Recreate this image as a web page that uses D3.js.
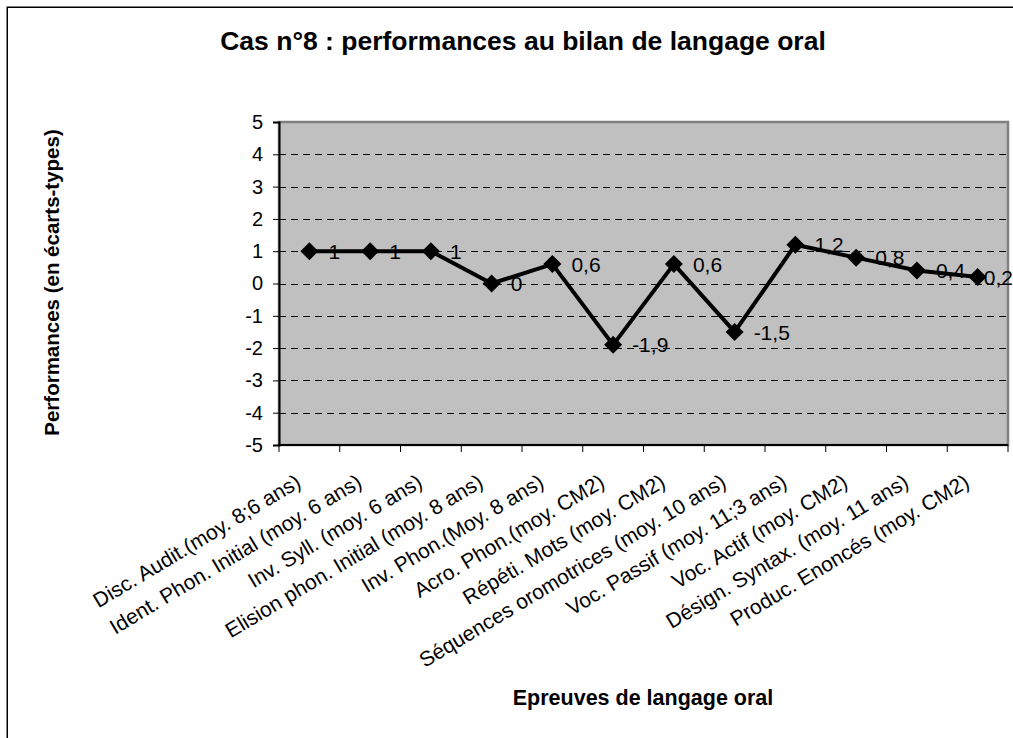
<!DOCTYPE html>
<html>
<head>
<meta charset="utf-8">
<script src="https://cdn.jsdelivr.net/npm/d3@7"></script>
<style>
  body { margin: 0; background: #fff; }
  svg { display: block; font-family: Arial, 'Liberation Sans', sans-serif; }
</style>
</head>
<body>
<div id="chart"></div>
<script>
const categories = [
  'Disc. Audit.(moy. 8;6 ans)',
  'Ident. Phon. Initial (moy. 6 ans)',
  'Inv. Syll. (moy. 6 ans)',
  'Elision phon. Initial (moy. 8 ans)',
  'Inv. Phon.(Moy. 8 ans)',
  'Acro. Phon.(moy. CM2)',
  'Répéti. Mots (moy. CM2)',
  'Séquences oromotrices (moy. 10 ans)',
  'Voc. Passif (moy. 11;3 ans)',
  'Voc. Actif (moy. CM2)',
  'Désign. Syntax. (moy. 11 ans)',
  'Produc. Enoncés (moy. CM2)',
];
const values = [1, 1, 1, 0, 0.6, -1.9, 0.6, -1.5, 1.2, 0.8, 0.4, 0.2];
const yTicks = [-5, -4, -3, -2, -1, 0, 1, 2, 3, 4, 5];

const width = 1013;
const height = 738;
const plot = { left: 279, right: 1008, top: 122, bottom: 445 };

const svg = d3.select('#chart').append('svg')
  .attr('width', width)
  .attr('height', height);

// outer frame, only top and left edges are inside the picture
svg.append('path')
  .attr('d', `M7.25,${height} L7.25,7.25 L${width},7.25`)
  .attr('fill', 'none')
  .attr('stroke', '#000')
  .attr('stroke-width', 1.5);

const x = d3.scaleBand()
  .domain(categories)
  .range([plot.left, plot.right]);

const y = d3.scaleLinear()
  .domain([-5, 5])
  .range([plot.bottom, plot.top]);

const cx = (d, i) => x(categories[i]) + x.bandwidth() / 2;

// plot area
svg.append('rect')
  .attr('x', plot.left)
  .attr('y', plot.top)
  .attr('width', plot.right - plot.left)
  .attr('height', plot.bottom - plot.top)
  .attr('fill', '#c0c0c0')
  .attr('stroke', '#808080')
  .attr('stroke-width', 2.5);

// dashed gridlines
svg.selectAll('.grid')
  .data(yTicks.filter(t => t > -5 && t < 5))
  .enter()
  .append('line')
  .attr('class', 'grid')
  .attr('x1', plot.left)
  .attr('x2', plot.right - 1)
  .attr('y1', d => Math.round(y(d)) + 0.5)
  .attr('y2', d => Math.round(y(d)) + 0.5)
  .attr('stroke', '#000')
  .attr('stroke-width', 1)
  .style('stroke-dasharray', '7, 5');

// y axis
const yAxis = svg.append('g')
  .attr('transform', `translate(${plot.left},0)`)
  .call(d3.axisLeft(y).tickValues(yTicks).tickSize(6).tickPadding(10).tickFormat(d => String(d)));
yAxis.select('.domain').attr('stroke', '#000').attr('stroke-width', 2);
yAxis.selectAll('.tick line').attr('stroke', '#000');
yAxis.selectAll('.tick text')
  .attr('font-size', 20)
  .attr('fill', '#000')
  .attr('font-family', 'Arial, Liberation Sans, sans-serif');

// x axis, ticks on the band edges
const xAxis = svg.append('g')
  .attr('transform', `translate(0,${plot.bottom})`);
xAxis.append('line')
  .attr('x1', plot.left - 1)
  .attr('x2', plot.right)
  .attr('stroke', '#000')
  .attr('stroke-width', 2);
xAxis.selectAll('.xtick')
  .data(categories.concat(['__end']))
  .enter()
  .append('line')
  .attr('class', 'xtick')
  .attr('x1', d => (d === '__end' ? plot.right : x(d)))
  .attr('x2', d => (d === '__end' ? plot.right : x(d)))
  .attr('y1', 0)
  .attr('y2', 7)
  .attr('stroke', '#000');

xAxis.selectAll('.xlabel')
  .data(categories)
  .enter()
  .append('text')
  .attr('class', 'xlabel')
  .attr('transform', d => `translate(${x(d) + x.bandwidth() / 2 - 7},${41}) rotate(-31)`)
  .attr('text-anchor', 'end')
  .attr('font-size', 21)
  .text(d => d);

// the series
const line = d3.line()
  .x(cx)
  .y(d => y(d));

svg.append('path')
  .datum(values)
  .attr('d', line)
  .attr('fill', 'none')
  .attr('stroke', '#000')
  .attr('stroke-width', 4)
  .attr('stroke-linejoin', 'round');

svg.selectAll('.marker')
  .data(values)
  .enter()
  .append('path')
  .attr('class', 'marker')
  .attr('transform', (d, i) => `translate(${cx(d, i)},${y(d)})`)
  .attr('d', 'M0,-9 L9,0 L0,9 L-9,0 Z')
  .attr('fill', '#000');

svg.selectAll('.dlabel')
  .data(values)
  .enter()
  .append('text')
  .attr('class', 'dlabel')
  .attr('x', (d, i) => cx(d, i) + 19)
  .attr('y', d => y(d))
  .attr('dy', '0.36em')
  .attr('font-size', 21)
  .text(d => String(d).replace('.', ','))
  .each(function () {
    // pull a label back in when it runs past the right edge, like Excel does
    const len = this.getComputedTextLength();
    const x0 = +this.getAttribute('x');
    if (x0 + len > width) this.setAttribute('x', width - len);
  });

// titles
svg.append('text')
  .attr('x', 523)
  .attr('y', 50)
  .attr('text-anchor', 'middle')
  .attr('font-size', 26.5)
  .attr('font-weight', 'bold')
  .text('Cas n°8 : performances au bilan de langage oral');

svg.append('text')
  .attr('transform', 'translate(59,282.5) rotate(-90)')
  .attr('text-anchor', 'middle')
  .attr('font-size', 20.5)
  .attr('font-weight', 'bold')
  .text('Performances (en écarts-types)');

svg.append('text')
  .attr('x', 643)
  .attr('y', 705)
  .attr('text-anchor', 'middle')
  .attr('font-size', 21.5)
  .attr('font-weight', 'bold')
  .text('Epreuves de langage oral');
</script>
</body>
</html>
